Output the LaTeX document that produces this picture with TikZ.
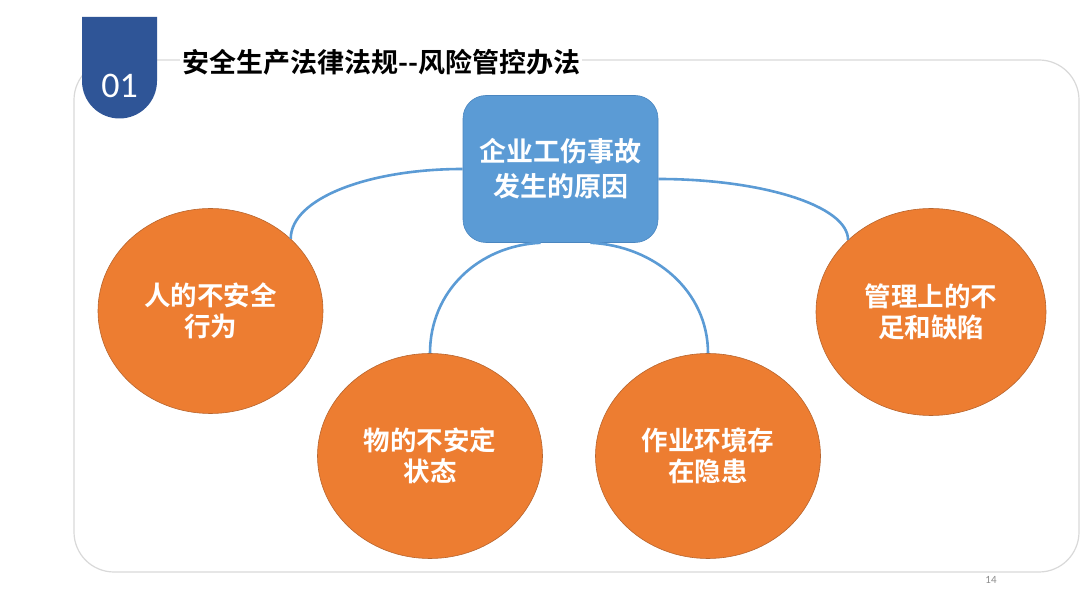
\documentclass[tikz,border=0pt]{standalone}
\usepackage{fontspec}
\newfontfamily\cjk[BoldFont={Noto Sans CJK SC Bold}]{Noto Sans CJK SC}
\newfontfamily\numfont{Carlito}
\usetikzlibrary{shapes.geometric,calc}
\definecolor{cpanel}{HTML}{D9D9D9}
\definecolor{ctab}{HTML}{2F5597}
\definecolor{cbox}{HTML}{5B9BD5}
\definecolor{cboxD}{HTML}{4A86C0}
\definecolor{corange}{HTML}{ED7D31}
\definecolor{corangeD}{HTML}{B8652E}
\definecolor{cpage}{HTML}{8C8C8C}
\tikzset{
  causebox/.style={draw=cboxD, fill=cbox, rounded corners=23pt, line width=0.6pt,
                   minimum width=195pt, minimum height=147pt, align=center,
                   text=white, font=\cjk\bfseries\fontsize{27}{35}\selectfont},
  reason/.style={ellipse, draw=corangeD, fill=corange, line width=0.6pt, inner sep=0pt,
                 minimum width=225pt, minimum height=205pt, align=center,
                 text=white, font=\cjk\bfseries\fontsize{26.5}{31}\selectfont},
  link/.style={draw=cbox, line width=2.6pt},
}
\begin{document}
\begin{tikzpicture}[x=1pt, y=1pt]
  \useasboundingbox (0,0) rectangle (1080,608);
  \fill[white] (0,0) rectangle (1080,608);
  % panel and header
  \draw[cpanel, line width=1.2pt, rounded corners=40pt] (74,36) rectangle (1079,548);
  \fill[ctab] (82,591) -- (157,591) -- (157,527)
    arc[start angle=0, end angle=-180, radius=37.5] -- cycle;
  \node[text=white, font=\numfont\fontsize{36}{40}\selectfont] (num) at (119.5,522) {01};
  \node[anchor=west, fill=white, inner sep=2pt, font=\cjk\bfseries\fontsize{27}{30}\selectfont]
    (title) at (180,546) {安全生产法律法规--风险管控办法};
  \node[text=cpage, font=\numfont\fontsize{11}{13}\selectfont] (page) at (991,28) {14};
  % nodes
  \node[causebox] (cause) at (560.5,439) {企业工伤事故\\发生的原因};
  \node[reason] (human) at (210.5,297) {人的不安全\\行为};
  \node[reason] (thing) at (430,152) {物的不安定\\状态};
  \node[reason] (env) at (708,152) {作业环境存\\在隐患};
  \node[reason, minimum width=230pt, minimum height=207pt] (mgmt) at (931,296) {管理上的不\\足和缺陷};
  % connectors
  \draw[link] (cause.west) .. controls +(-95,0) and +(0,40) .. (human.42);
  \draw[link] ([yshift=-10pt]cause.east) .. controls +(104,0) and +(0,34) .. (mgmt.139);
  \draw[link] ([xshift=-20pt]cause.south) .. controls +(-62,-3) and +(0,62) .. (thing.north);
  \draw[link] ([xshift=30pt]cause.south) .. controls +(64,-3) and +(0,62) .. (env.north);
\end{tikzpicture}
\end{document}
